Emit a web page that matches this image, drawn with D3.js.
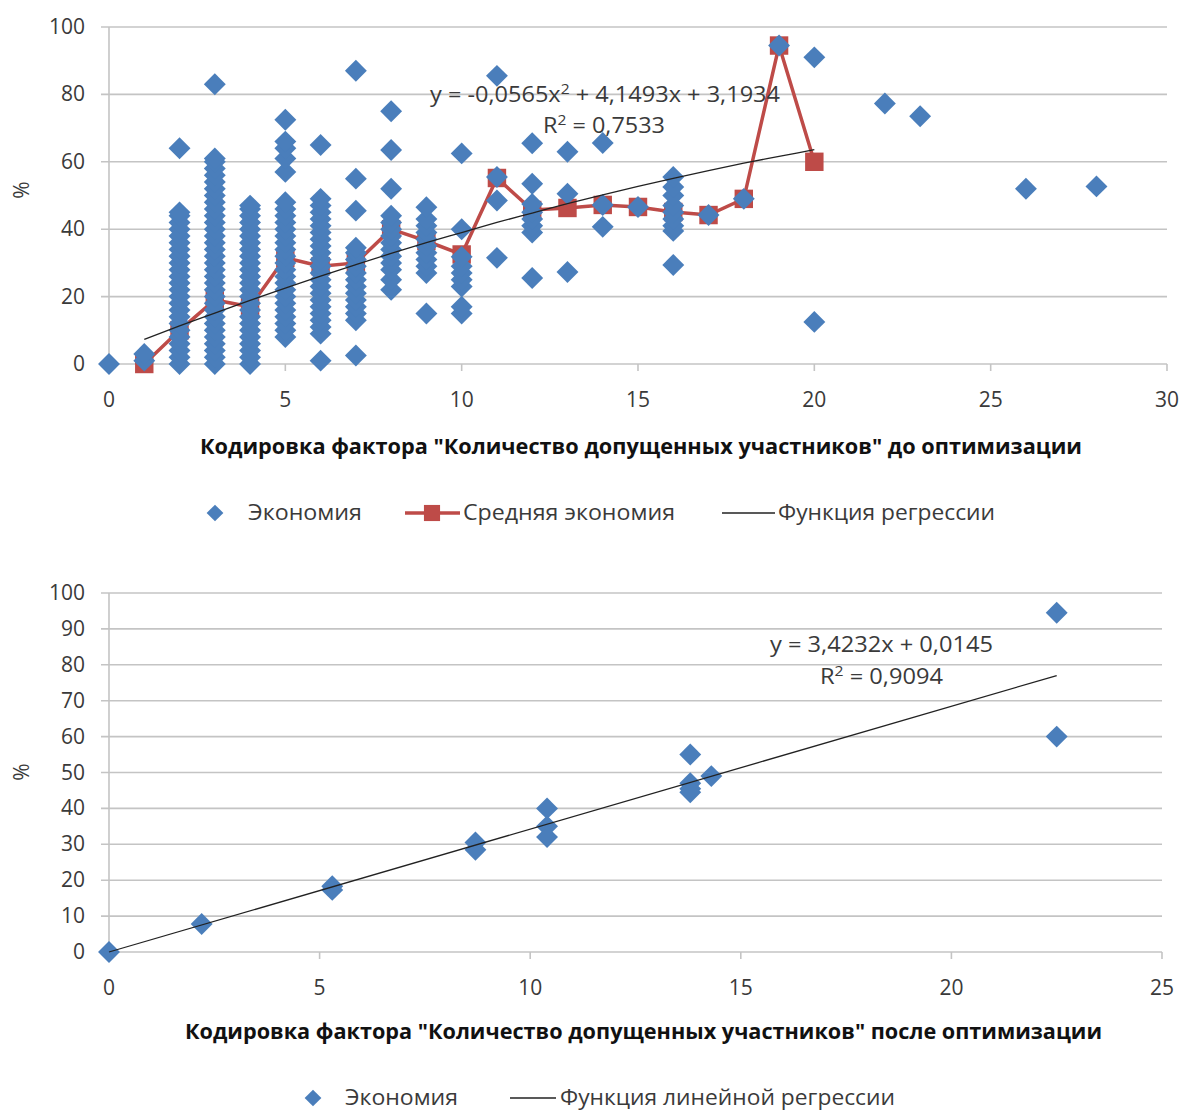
<!DOCTYPE html>
<html>
<head>
<meta charset="utf-8">
<script src="https://cdn.jsdelivr.net/npm/d3@7"></script>
<style>
  body { margin: 0; background: #fff; }
  text { font-family: "Open Sans", "Noto Sans", sans-serif; }
</style>
</head>
<body>
<div id="chart"></div>
<script>
// ---- data: upper chart (before optimisation) ----
var topCols = [0, 1, 2, 3, 4, 5, 6, 7, 8, 9, 10, 11, 12, 13, 14, 15, 16, 17, 18, 19, 20, 22, 23, 26, 28];
var topVals = [
  [0],
  [1, 3],
  [0, 2, 4, 6, 8, 10, 12, 14, 16, 18, 20, 22, 24, 26, 28, 30, 32, 34, 36, 38, 40, 42, 44, 45, 64],
  [0, 2, 4, 6, 8, 10, 12, 14, 16, 18, 20, 22, 24, 26, 28, 30, 32, 34, 36, 38, 40, 42, 44, 46, 48, 50, 52, 54, 56, 58, 60, 61, 83],
  [0, 2, 4, 6, 8, 10, 12, 14, 16, 18, 20, 22, 24, 26, 28, 30, 32, 34, 36, 38, 40, 42, 44, 46, 47],
  [8, 10, 12, 14, 16, 18, 20, 22, 24, 26, 28, 30, 32, 34, 36, 38, 40, 42, 44, 46, 48, 57, 61, 64, 66, 72.5],
  [1, 9, 11, 13, 15, 17, 19, 21, 23, 25, 27, 29, 31, 33, 35, 37, 39, 41, 43, 45, 47, 49, 65],
  [2.5, 13, 15, 17, 19, 21, 23, 25, 27, 29, 31, 33, 34.5, 45.5, 55, 87],
  [22, 25, 28, 30, 32, 34, 36, 38, 40, 42, 44, 52, 63.5, 75],
  [15, 27, 29, 31, 33, 35, 37, 39, 41, 43, 46.5],
  [15, 17, 23, 25, 27, 29, 31.8, 40, 62.5],
  [31.5, 48.5, 55.5, 85.5],
  [25.5, 39, 41, 43, 45, 47.5, 53.5, 65.5],
  [27.3, 50.5, 63],
  [40.7, 47.2, 65.6],
  [46.6],
  [29.4, 39.5, 41, 43, 45, 47, 50, 52.5, 55.5],
  [44.2],
  [49],
  [94.5],
  [12.5, 91],
  [77.3],
  [73.5],
  [52],
  [52.7]
];
// mean saving per code
var meanX = [1, 2, 3, 4, 5, 6, 7, 8, 9, 10, 11, 12, 13, 14, 15, 16, 17, 18, 19, 20];
var meanY = [0, 10, 19, 17, 31.5, 29, 30, 40, 36.5, 32.5, 55.2, 45.7, 46.3, 47.2, 46.6, 45.1, 44.2, 49, 94.5, 60];
// trend (polynomial) read at each code
var trendTopX = [1, 2, 3, 4, 5, 6, 7, 8, 9, 10, 11, 12, 13, 14, 15, 16, 17, 18, 19, 20];
var trendTopY = [7.3, 11.3, 15.1, 18.9, 22.5, 26.1, 29.5, 32.8, 36.0, 39.0, 42.0, 44.8, 47.6, 50.2, 52.7, 55.1, 57.4, 59.6, 61.6, 63.6];
var topXTicks = [0, 5, 10, 15, 20, 25, 30];
var topYTicks = [0, 20, 40, 60, 80, 100];

// ---- data: lower chart (after optimisation) ----
var botX = [0, 2.2, 5.3, 5.3, 8.7, 8.7, 10.4, 10.4, 10.4, 13.8, 13.8, 13.8, 13.8, 14.3, 22.5, 22.5];
var botY = [0, 7.8, 18.3, 17.3, 30.5, 28.5, 40, 35, 32, 55, 47, 45.5, 44.5, 49, 94.5, 60];
var trendBotX = [0, 22.5];
var trendBotY = [0.0, 77.0];
var botXTicks = [0, 5, 10, 15, 20, 25];
var botYTicks = [0, 10, 20, 30, 40, 50, 60, 70, 80, 90, 100];

// colours
var blue = "#4a7ebb";
var red = "#be4b48";
var gridColor = "#c4c4c4";
var textColor = "#3a3a3a";

var svg = d3.select("#chart").append("svg")
  .attr("width", 1185)
  .attr("height", 1111);

var diamond = d3.symbol().type(d3.symbolSquare).size(240);
var square = d3.symbol().type(d3.symbolSquare).size(340);

// draws grid, axes and tick labels of one panel
function drawFrame(x, y, xTicks, yTicks, yLabelY) {
  var g = svg.append("g");
  var x0 = x.range()[0], x1 = x.range()[1];
  g.selectAll(".grid").data(yTicks).enter().append("line")
    .attr("x1", x0 - 8).attr("x2", x1)
    .attr("y1", function(d){ return y(d); })
    .attr("y2", function(d){ return y(d); })
    .attr("stroke", gridColor).attr("stroke-width", 1.6);
  g.append("line")
    .attr("x1", x0).attr("x2", x0)
    .attr("y1", y.range()[1]).attr("y2", y.range()[0])
    .attr("stroke", gridColor).attr("stroke-width", 1.6);
  g.selectAll(".xt").data(xTicks).enter().append("line")
    .attr("x1", function(d){ return x(d); })
    .attr("x2", function(d){ return x(d); })
    .attr("y1", y(0)).attr("y2", y(0) + 7)
    .attr("stroke", gridColor).attr("stroke-width", 1.6);
  g.selectAll(".yl").data(yTicks).enter().append("text")
    .attr("x", x0 - 24)
    .attr("y", function(d){ return y(d) + 7; })
    .attr("text-anchor", "end")
    .attr("font-size", 21)
    .attr("fill", textColor)
    .text(function(d){ return d; });
  g.selectAll(".xl").data(xTicks).enter().append("text")
    .attr("x", function(d){ return x(d); })
    .attr("y", y(0) + 43)
    .attr("text-anchor", "middle")
    .attr("font-size", 21)
    .attr("fill", textColor)
    .text(function(d){ return d; });
  g.append("text")
    .attr("transform", "translate(29," + yLabelY + ") rotate(-90)")
    .attr("text-anchor", "middle")
    .attr("font-size", 21)
    .attr("fill", textColor)
    .text("%");
}

function fitText(x, y, w, str, opts) {
  var t = svg.append("text")
    .attr("x", x).attr("y", y)
    .attr("font-size", opts && opts.size || 21)
    .attr("font-weight", opts && opts.bold ? "bold" : "normal")
    .attr("fill", opts && opts.color || textColor)
    .attr("textLength", w)
    .attr("lengthAdjust", "spacingAndGlyphs");
  return t.text(str);
}

// ================= upper chart =================
var xTop = d3.scaleLinear().domain([0, 30]).range([109, 1167]);
var yTop = d3.scaleLinear().domain([0, 100]).range([364, 27]);
drawFrame(xTop, yTop, topXTicks, topYTicks, 190);

// mean line + squares (under the scatter)
var meanData = meanX.map(function(d, i){ return [d, meanY[i]]; });
svg.append("path")
  .datum(meanData)
  .attr("fill", "none")
  .attr("stroke", red)
  .attr("stroke-width", 3.5)
  .attr("d", d3.line().x(function(d){ return xTop(d[0]); }).y(function(d){ return yTop(d[1]); }));
svg.selectAll(".msq").data(meanData).enter().append("path")
  .attr("d", square)
  .attr("transform", function(d){ return "translate(" + xTop(d[0]) + "," + yTop(d[1]) + ")"; })
  .attr("fill", red);

// scatter
var topPts = [];
topCols.forEach(function(c, i){
  topVals[i].forEach(function(v){ topPts.push([c, v]); });
});
svg.selectAll(".tp").data(topPts).enter().append("path")
  .attr("d", diamond)
  .attr("transform", function(d){ return "translate(" + xTop(d[0]) + "," + yTop(d[1]) + ") rotate(45)"; })
  .attr("fill", blue);

// trend line
svg.append("path")
  .datum(trendTopX.map(function(d, i){ return [d, trendTopY[i]]; }))
  .attr("fill", "none")
  .attr("stroke", "#222")
  .attr("stroke-width", 1.3)
  .attr("d", d3.line().curve(d3.curveMonotoneX)
    .x(function(d){ return xTop(d[0]); }).y(function(d){ return yTop(d[1]); }));

var eq1 = svg.append("text").attr("x", 430).attr("y", 102)
  .attr("font-size", 21).attr("fill", textColor)
  .attr("textLength", 350).attr("lengthAdjust", "spacingAndGlyphs");
eq1.append("tspan").text("y = -0,0565x");
eq1.append("tspan").attr("font-size", 14).attr("dy", -8).text("2");
eq1.append("tspan").attr("dy", 8).text(" + 4,1493x + 3,1934");
var r1 = svg.append("text").attr("x", 543).attr("y", 133)
  .attr("font-size", 21).attr("fill", textColor)
  .attr("textLength", 122).attr("lengthAdjust", "spacingAndGlyphs");
r1.append("tspan").text("R");
r1.append("tspan").attr("font-size", 14).attr("dy", -8).text("2");
r1.append("tspan").attr("dy", 8).text(" = 0,7533");

fitText(200, 454, 882, "Кодировка фактора \"Количество допущенных участников\" до оптимизации", {bold: true, color: "#111"});

// legend (upper)
svg.append("path").attr("d", d3.symbol().type(d3.symbolSquare).size(140))
  .attr("transform", "translate(215,513) rotate(45)").attr("fill", blue);
fitText(248, 520, 114, "Экономия");
svg.append("line").attr("x1", 405).attr("x2", 460).attr("y1", 513).attr("y2", 513)
  .attr("stroke", red).attr("stroke-width", 3.5);
svg.append("path").attr("d", d3.symbol().type(d3.symbolSquare).size(260))
  .attr("transform", "translate(432,513)").attr("fill", red);
fitText(463, 520, 212, "Средняя экономия");
svg.append("line").attr("x1", 722).attr("x2", 775).attr("y1", 513).attr("y2", 513)
  .attr("stroke", "#222").attr("stroke-width", 1.3);
fitText(778, 520, 217, "Функция регрессии");

// ================= lower chart =================
var xBot = d3.scaleLinear().domain([0, 25]).range([109, 1162]);
var yBot = d3.scaleLinear().domain([0, 100]).range([952, 593]);
drawFrame(xBot, yBot, botXTicks, botYTicks, 772);

var botPts = botX.map(function(d, i){ return [d, botY[i]]; });
svg.selectAll(".bp").data(botPts).enter().append("path")
  .attr("d", diamond)
  .attr("transform", function(d){ return "translate(" + xBot(d[0]) + "," + yBot(d[1]) + ") rotate(45)"; })
  .attr("fill", blue);

svg.append("path")
  .datum(trendBotX.map(function(d, i){ return [d, trendBotY[i]]; }))
  .attr("fill", "none")
  .attr("stroke", "#222")
  .attr("stroke-width", 1.3)
  .attr("d", d3.line().x(function(d){ return xBot(d[0]); }).y(function(d){ return yBot(d[1]); }));

fitText(770, 652, 223, "y = 3,4232x + 0,0145");
var r2 = svg.append("text").attr("x", 820).attr("y", 684)
  .attr("font-size", 21).attr("fill", textColor)
  .attr("textLength", 123).attr("lengthAdjust", "spacingAndGlyphs");
r2.append("tspan").text("R");
r2.append("tspan").attr("font-size", 14).attr("dy", -8).text("2");
r2.append("tspan").attr("dy", 8).text(" = 0,9094");

fitText(185, 1039, 917, "Кодировка фактора \"Количество допущенных участников\" после оптимизации", {bold: true, color: "#111"});

// legend (lower)
svg.append("path").attr("d", d3.symbol().type(d3.symbolSquare).size(140))
  .attr("transform", "translate(313,1098) rotate(45)").attr("fill", blue);
fitText(345, 1105, 113, "Экономия");
svg.append("line").attr("x1", 510).attr("x2", 556).attr("y1", 1098).attr("y2", 1098)
  .attr("stroke", "#222").attr("stroke-width", 1.3);
fitText(560, 1105, 335, "Функция линейной регрессии");
</script>
</body>
</html>
